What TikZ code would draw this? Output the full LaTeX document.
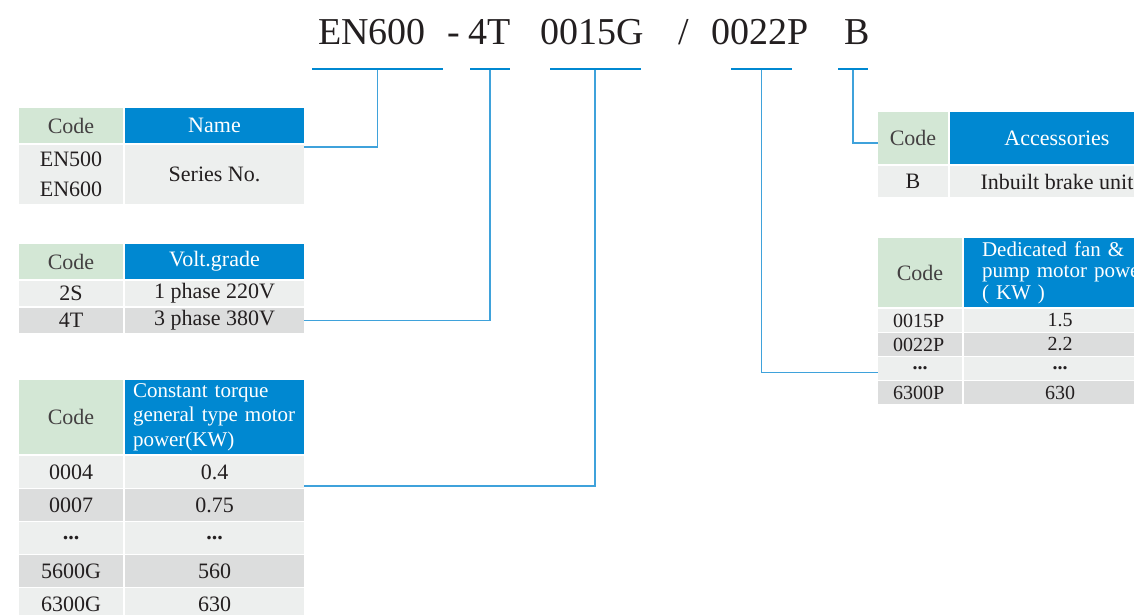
\documentclass[tikz,border=0pt]{standalone}
\usepackage{fontspec}
\setmainfont{Liberation Serif}
\definecolor{headgreen}{HTML}{D3E7D5}
\definecolor{headblue}{HTML}{0088D1}
\definecolor{rowlight}{HTML}{EDEFEE}
\definecolor{rowdark}{HTML}{DCDDDD}
\definecolor{linkblue}{HTML}{3FA2DB}
\definecolor{ink}{HTML}{231F20}
\tikzset{
  cell/.style={anchor=north west, inner sep=0pt, outer sep=0pt, text=ink,
    font=\fontsize{22}{26}\selectfont},
  codehead/.style={cell, fill=headgreen, text=ink!85},
  bluehead/.style={cell, fill=headblue, text=white},
  rowa/.style={cell, fill=rowlight},
  rowb/.style={cell, fill=rowdark},
  fanrow/.style={font=\fontsize{20}{20}\selectfont},
  part/.style={anchor=base, inner sep=0pt, text=ink, font=\fontsize{38}{40}\selectfont},
  bar/.style={fill=headblue, inner sep=0pt, outer sep=0pt, minimum height=2.5pt},
  link/.style={draw=linkblue, line width=1.5pt},
}
\begin{document}
\begin{tikzpicture}[x=1pt,y=-1pt]
  \useasboundingbox (0,0) rectangle (1134,614);
  \clip (0,0) rectangle (1134,614);
  % part number
  \node[part] (p1) at (372,44) {EN600};
  \node[part] (p2) at (454,44) {-};
  \node[part] (p3) at (490,44) {4T};
  \node[part] (p4) at (592,44) {0015G};
  \node[part] (p5) at (684,44) {/};
  \node[part] (p6) at (760,44) {0022P};
  \node[part] (p7) at (857,44) {B};
  \node[bar, minimum width=131pt] (u1) at (377.5,69) {};
  \node[bar, minimum width=40pt] (u2) at (490,69) {};
  \node[bar, minimum width=91pt] (u3) at (595,69) {};
  \node[bar, minimum width=61pt] (u5) at (761.5,69) {};
  \node[bar, minimum width=30pt] (u6) at (853,69) {};
  % series
  \node[codehead, minimum width=104pt, minimum height=35pt] (c1h) at (19,108) {Code};
  \node[bluehead, minimum width=179pt, minimum height=35pt] (n1h) at (125,108) {Name};
  \node[rowa, minimum width=104pt, minimum height=59pt, align=center,
    font=\fontsize{22}{30}\selectfont] (c1b) at (19,145) {EN500\\EN600};
  \node[rowa, minimum width=179pt, minimum height=59pt] (n1b) at (125,145) {Series No.};
  % voltage
  \node[codehead, minimum width=104pt, minimum height=35pt] (c2h) at (19,244) {Code};
  \node[bluehead, minimum width=179pt, minimum height=35pt] (v2h) at (125,244) {Volt.grade};
  \node[rowa, minimum width=104pt, minimum height=25pt] (c2a) at (19,281) {2S};
  \node[rowa, minimum width=179pt, minimum height=25pt] (v2a) at (125,281) {1 phase 220V};
  \node[rowb, minimum width=104pt, minimum height=25pt] (c2b) at (19,308) {4T};
  \node[rowb, minimum width=179pt, minimum height=25pt] (v2b) at (125,308) {3 phase 380V};
  % constant torque
  \node[codehead, minimum width=104pt, minimum height=74pt] (c3h) at (19,380) {Code};
  \node[bluehead, minimum width=179pt, minimum height=74pt, inner xsep=8pt,
    text width=163pt, align=left, font=\fontsize{21}{24.5}\selectfont] (t3h) at (125,380)
    {Constant torque\\general type motor\\power(KW)};
  \node[rowa, minimum width=104pt, minimum height=32pt] (c3a) at (19,456) {0004};
  \node[rowa, minimum width=179pt, minimum height=32pt] (t3a) at (125,456) {0.4};
  \node[rowb, minimum width=104pt, minimum height=32pt] (c3b) at (19,489) {0007};
  \node[rowb, minimum width=179pt, minimum height=32pt] (t3b) at (125,489) {0.75};
  \node[rowa, minimum width=104pt, minimum height=32pt] (c3c) at (19,522) {\textbf{...}};
  \node[rowa, minimum width=179pt, minimum height=32pt] (t3c) at (125,522) {\textbf{...}};
  \node[rowb, minimum width=104pt, minimum height=32pt] (c3d) at (19,555) {5600G};
  \node[rowb, minimum width=179pt, minimum height=32pt] (t3d) at (125,555) {560};
  \node[rowa, minimum width=104pt, minimum height=32pt] (c3e) at (19,588) {6300G};
  \node[rowa, minimum width=179pt, minimum height=32pt] (t3e) at (125,588) {630};
  % accessories
  \node[codehead, minimum width=70pt, minimum height=52pt] (c4h) at (878,112) {Code};
  \node[bluehead, minimum width=214pt, minimum height=52pt] (a4h) at (950,112) {Accessories};
  \node[rowa, minimum width=70pt, minimum height=31pt] (c4a) at (878,166) {B};
  \node[rowa, minimum width=214pt, minimum height=31pt] (a4a) at (950,166) {Inbuilt brake unit};
  % fan and pump
  \node[codehead, minimum width=84pt, minimum height=69pt] (c5h) at (878,238) {Code};
  \node[bluehead, minimum width=192pt, minimum height=69pt, inner xsep=18pt,
    text width=174pt, align=left, font=\fontsize{21}{21.5}\selectfont] (f5h) at (964,238)
    {Dedicated fan \&\\pump motor power\\( KW )};
  \node[rowa, fanrow, minimum width=84pt, minimum height=23pt, inner xsep=15pt,
    text width=54pt, align=left] (c5a) at (878,309) {0015P};
  \node[rowa, fanrow, minimum width=192pt, minimum height=23pt] (f5a) at (964,309) {1.5};
  \node[rowb, fanrow, minimum width=84pt, minimum height=23pt, inner xsep=15pt,
    text width=54pt, align=left] (c5b) at (878,333) {0022P};
  \node[rowb, fanrow, minimum width=192pt, minimum height=23pt] (f5b) at (964,333) {2.2};
  \node[rowa, fanrow, minimum width=84pt, minimum height=23pt] (c5c) at (878,357) {\textbf{...}};
  \node[rowa, fanrow, minimum width=192pt, minimum height=23pt] (f5c) at (964,357) {\textbf{...}};
  \node[rowb, fanrow, minimum width=84pt, minimum height=23pt, inner xsep=15pt,
    text width=54pt, align=left] (c5d) at (878,381) {6300P};
  \node[rowb, fanrow, minimum width=192pt, minimum height=23pt] (f5d) at (964,381) {630};
  % links
  \draw[link] (u1.south) |- ([yshift=-2pt]n1b.north east);
  \draw[link] (u2.south) |- (v2b.east);
  \draw[link] (u3.south) |- ([yshift=2pt]t3a.south east);
  \draw[link] (u5.south) |- ([yshift=-4pt]c5c.west);
  \draw[link] (u6.south) |- ([yshift=-5pt]c4h.west);
\end{tikzpicture}
\end{document}
